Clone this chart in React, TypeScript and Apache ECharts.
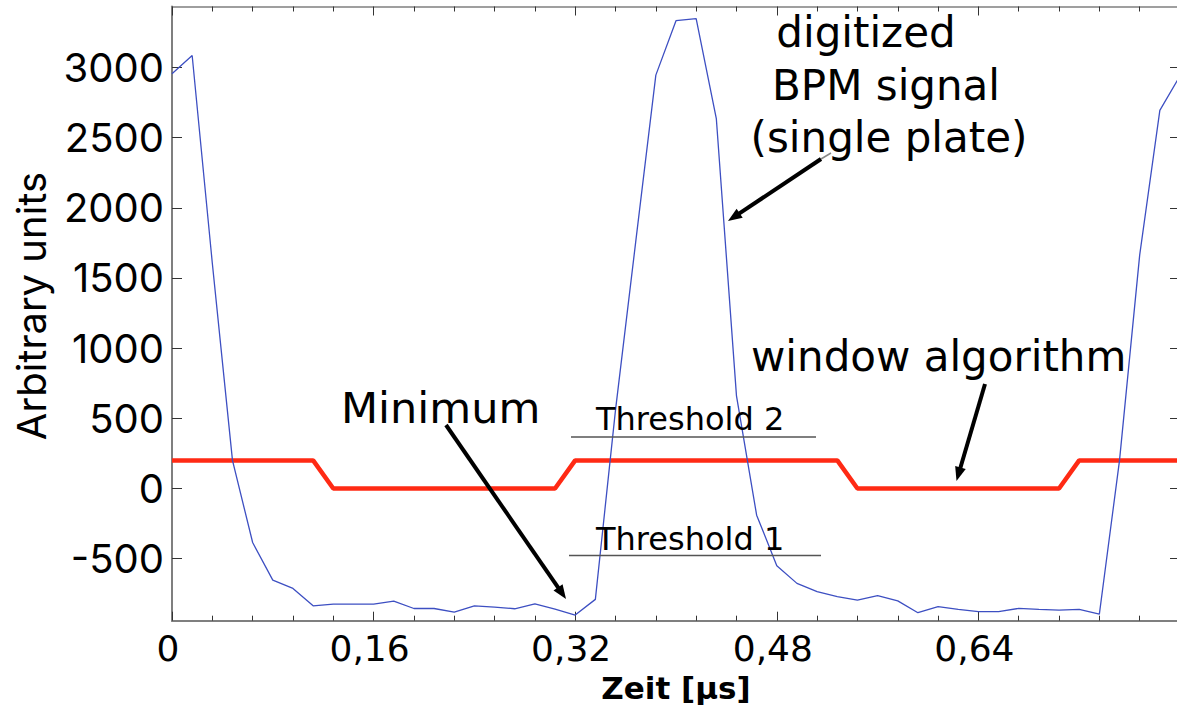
import React, { useEffect, useRef } from "react";
import * as echarts from "echarts";

// Sample times of the digitized signal [µs]
const sampleTimes = [
  0, 0.016, 0.032, 0.048, 0.064, 0.08, 0.096, 0.112, 0.128, 0.144,
  0.16, 0.176, 0.192, 0.208, 0.224, 0.24, 0.256, 0.272, 0.288, 0.304,
  0.32, 0.336, 0.352, 0.368, 0.384, 0.4, 0.416, 0.432, 0.448, 0.464,
  0.48, 0.496, 0.512, 0.528, 0.544, 0.56, 0.576, 0.592, 0.608, 0.624,
  0.64, 0.656, 0.672, 0.688, 0.704, 0.72, 0.736, 0.752, 0.768, 0.784, 0.8,
];

// Digitized BPM signal (single plate), arbitrary units
const bpmSignal = [
  2955, 3085, 1605, 200, -385, -653, -712, -836, -824, -824,
  -824, -803, -855, -855, -881, -836, -845, -857, -822, -860,
  -902, -790, 560, 1755, 2945, 3333, 3347, 2636, 660, -190,
  -550, -676, -735, -771, -795, -764, -801, -885, -842, -861,
  -878, -878, -854, -861, -866, -861, -895, 200, 1663, 2694, 2940,
];

// Window algorithm output
const windowAlgorithm = [
  200, 200, 200, 200, 200, 200, 200, 200, 0, 0,
  0, 0, 0, 0, 0, 0, 0, 0, 0, 0,
  200, 200, 200, 200, 200, 200, 200, 200, 200, 200,
  200, 200, 200, 200, 0, 0, 0, 0, 0, 0,
  0, 0, 0, 0, 0, 200, 200, 200, 200, 200, 200,
];

const yTickValues = [-500, 0, 500, 1000, 1500, 2000, 2500, 3000];
const xLabelStep = 0.16;
const xMinorSplit = 5;
const xMin = 0;
const xMax = 0.8;
const yMin = -942;
const yMax = 3434;

const DJ = "'DejaVu Sans', sans-serif";
const INTER = "Inter, 'Liberation Sans', sans-serif";

function fmtX(v: number): string {
  if (Math.abs(v) < 1e-9) return "0";
  return v.toFixed(2).replace(".", ",");
}

function fmtY(v: number): string {
  return String(Math.round(v));
}

function arrow(
  tail: number[],
  tip: number[],
  width: number,
  headLen: number,
  headHalf: number
): any[] {
  const dx = tip[0] - tail[0];
  const dy = tip[1] - tail[1];
  const len = Math.hypot(dx, dy);
  const ux = dx / len;
  const uy = dy / len;
  const bx = tip[0] - ux * headLen;
  const by = tip[1] - uy * headLen;
  const px = -uy;
  const py = ux;
  return [
    {
      type: "line",
      shape: { x1: tail[0], y1: tail[1], x2: bx + ux * 3, y2: by + uy * 3 },
      style: { stroke: "#000", lineWidth: width },
      z: 100,
    },
    {
      type: "polygon",
      shape: {
        points: [
          [tip[0], tip[1]],
          [bx + px * headHalf, by + py * headHalf],
          [bx - px * headHalf, by - py * headHalf],
        ],
      },
      style: { fill: "#000" },
      z: 100,
    },
  ];
}

function txt(
  text: string,
  x: number,
  y: number,
  size: number,
  family: string,
  align: string,
  extra: any = {}
): any {
  return {
    type: "text",
    x,
    y,
    z: 100,
    ...extra,
    style: {
      text,
      fontSize: size,
      fontFamily: family,
      fill: "#000",
      align,
      verticalAlign: "middle",
    },
  };
}

export default function App() {
  const ref = useRef<HTMLDivElement | null>(null);

  useEffect(() => {
    if (!ref.current) return;
    const chart = echarts.init(ref.current, undefined, { renderer: "svg" });

    const signalData = sampleTimes.map((t, i) => [t, bpmSignal[i]]);
    const windowData = sampleTimes.map((t, i) => [t, windowAlgorithm[i]]);

    const tickStyle = { color: "#333", width: 1 };

    const graphics: any[] = [
      // threshold lines
      {
        type: "line",
        shape: { x1: 571, y1: 437, x2: 816, y2: 437 },
        style: { stroke: "#555", lineWidth: 1.5 },
        z: 90,
      },
      {
        type: "line",
        shape: { x1: 569, y1: 555.5, x2: 821, y2: 555.5 },
        style: { stroke: "#555", lineWidth: 1.5 },
        z: 90,
      },
      txt("Threshold 2", 596, 419, 32, DJ, "left"),
      txt("Threshold 1", 596, 539, 32, DJ, "left"),
      txt("Minimum", 341, 408, 43, DJ, "left"),
      txt("digitized", 866, 32, 42, DJ, "center"),
      txt("BPM signal", 886, 85.5, 42, DJ, "center"),
      txt("(single plate)", 889, 137.5, 42, DJ, "center"),
      txt("window algorithm", 751, 356, 42, DJ, "left"),
      txt("Arbitrary units", 31, 306, 40, INTER, "center", { rotation: Math.PI / 2 }),
      {
        type: "line",
        shape: { x1: 831, y1: 153, x2: 821, y2: 159 },
        style: { stroke: "#888", lineWidth: 1.5 },
        z: 100,
      },
      ...arrow([446, 425], [566, 599], 4, 14, 5.5),
      ...arrow([821, 159], [728, 221], 4, 14, 5.5),
      ...arrow([985, 384], [956.5, 481], 4, 14, 5.5),
    ];

    chart.setOption({
      animation: false,
      backgroundColor: "#ffffff",
      grid: {
        left: 172,
        top: 6.5,
        width: 1008,
        height: 614.2,
        containLabel: false,
        outerBoundsMode: "none",
      },
      xAxis: [
        {
          type: "value",
          min: xMin,
          max: xMax,
          interval: xLabelStep,
          position: "bottom",
          name: "Zeit [µs]",
          nameLocation: "middle",
          nameGap: 52,
          nameTextStyle: {
            fontFamily: DJ,
            fontSize: 31,
            fontWeight: "bold",
            color: "#000",
          },
          axisLine: {
            show: true,
            onZero: false,
            lineStyle: { color: "#7f7f7f", width: 2 },
          },
          axisTick: { show: true, inside: true, length: 9, lineStyle: tickStyle },
          minorTick: {
            show: true,
            splitNumber: xMinorSplit,
            length: 5,
            lineStyle: tickStyle,
          },
          axisLabel: {
            show: true,
            margin: 10,
            fontSize: 36,
            fontFamily: DJ,
            color: "#000",
            formatter: fmtX,
            showMaxLabel: false,
            padding: [0, 8, 0, 0],
          },
          splitLine: { show: false },
          minorSplitLine: { show: false },
        },
        {
          type: "value",
          min: xMin,
          max: xMax,
          interval: xLabelStep,
          position: "top",
          axisLine: {
            show: true,
            onZero: false,
            lineStyle: { color: "#7f7f7f", width: 1.5 },
          },
          axisTick: { show: true, inside: true, length: 9, lineStyle: tickStyle },
          minorTick: {
            show: true,
            splitNumber: xMinorSplit,
            length: 5,
            lineStyle: tickStyle,
          },
          axisLabel: { show: false },
          splitLine: { show: false },
        },
      ],
      yAxis: [
        {
          type: "value",
          min: yMin,
          max: yMax,
          position: "left",
          axisLine: {
            show: true,
            onZero: false,
            lineStyle: { color: "#7f7f7f", width: 2 },
          },
          axisTick: {
            show: true,
            inside: true,
            length: 10,
            customValues: yTickValues,
            lineStyle: tickStyle,
          },
          axisLabel: {
            show: true,
            customValues: yTickValues,
            margin: 8,
            fontSize: 40,
            fontFamily: INTER,
            color: "#000",
            formatter: fmtY,
          },
          splitLine: { show: false },
        },
        {
          type: "value",
          min: yMin,
          max: yMax,
          position: "right",
          axisLine: {
            show: true,
            onZero: false,
            lineStyle: { color: "#7f7f7f", width: 2 },
          },
          axisTick: {
            show: true,
            inside: true,
            length: 10,
            customValues: yTickValues,
            lineStyle: tickStyle,
          },
          axisLabel: { show: false, customValues: yTickValues },
          splitLine: { show: false },
        },
      ],
      series: [
        {
          name: "window algorithm",
          type: "line",
          xAxisIndex: 0,
          yAxisIndex: 0,
          data: windowData,
          showSymbol: false,
          symbol: "none",
          lineStyle: { color: "#ff2a14", width: 4.5 },
          z: 3,
        },
        {
          name: "digitized BPM signal",
          type: "line",
          xAxisIndex: 0,
          yAxisIndex: 0,
          data: signalData,
          showSymbol: false,
          symbol: "none",
          lineStyle: { color: "#3d4fc2", width: 1.3 },
          z: 4,
        },
      ],
      graphic: graphics,
    });

    return () => {
      chart.dispose();
    };
  }, []);

  return (
    <div
      ref={ref}
      style={{
        position: "fixed",
        left: 0,
        top: 0,
        width: 1177,
        height: 710,
        background: "#fff",
      }}
    />
  );
}
